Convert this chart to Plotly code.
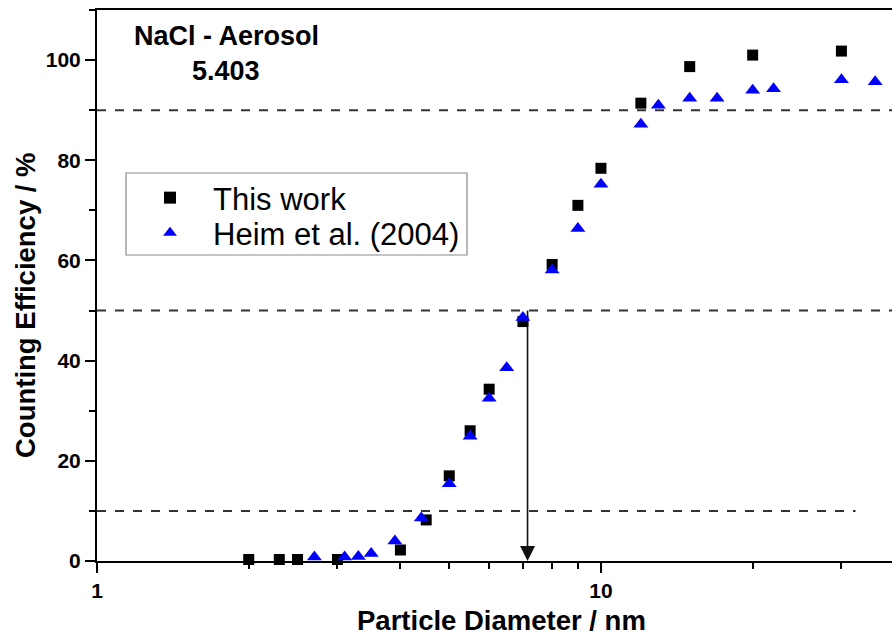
import math
import plotly.graph_objects as go

# Measured counting efficiency (this work), NaCl aerosol, CPC model 5.403
this_work_d = [2.0, 2.3, 2.5, 3.0, 4.0, 4.5, 5.0, 5.5, 6.0, 7.0, 8.0, 9.0, 10.0, 12.0, 15.0, 20.0, 30.0]
this_work_eff = [0.3, 0.3, 0.3, 0.3, 2.2, 8.2, 17.0, 26.0, 34.3, 47.8, 59.2, 71.0, 78.4, 91.4, 98.7, 101.0, 101.8]

# Literature data, Heim et al. (2004)
heim_d = [2.7, 3.1, 3.3, 3.5, 3.9, 4.4, 5.0, 5.5, 6.0, 6.5, 7.0, 8.0, 9.0, 10.0, 12.0, 13.0, 15.0, 17.0, 20.0, 22.0, 30.0, 35.0]
heim_eff = [0.8, 0.8, 0.9, 1.5, 4.0, 8.6, 15.4, 24.9, 32.5, 38.6, 48.6, 58.1, 66.4, 75.2, 87.2, 91.0, 92.4, 92.4, 94.0, 94.3, 96.1, 95.7]

# Reference efficiency levels (dashed) and the d50 cut-off diameter
ref_levels = [90, 50, 10]
ref_level_end = [45, 45, 32]
d50 = 7.15
d50_level = 50

FONT = "Arial, 'Liberation Sans', sans-serif"

# Plot area in pixels (left, top, width, height)
PL, PT, PW, PH = 97, 10, 795, 551


def px_x(px):
    return (px - PL) / PW


def px_y(py):
    return (PT + PH - py) / PH


fig = go.Figure()

for lvl, xend in zip(ref_levels, ref_level_end):
    fig.add_trace(go.Scatter(
        x=[1, xend], y=[lvl, lvl], mode="lines",
        line=dict(color="#333333", width=2, dash="9px,9px"),
        showlegend=False, hoverinfo="skip"))

# d50 marker: vertical line from the 50 % level down to the axis, with arrow tip
fig.add_trace(go.Scatter(
    x=[d50, d50], y=[d50_level, 1.5], mode="lines",
    line=dict(color="#111111", width=1.6),
    showlegend=False, hoverinfo="skip"))
fig.add_trace(go.Scatter(
    x=[d50], y=[0], mode="markers",
    marker=dict(symbol="arrow-down", size=15, color="#111111", line=dict(width=0)),
    cliponaxis=False, showlegend=False, hoverinfo="skip"))

fig.add_trace(go.Scatter(
    x=this_work_d, y=this_work_eff, mode="markers", name="This work",
    marker=dict(symbol="square", size=11, color="black", line=dict(width=0)),
    cliponaxis=False, legend="legend"))

fig.add_trace(go.Scatter(
    x=heim_d, y=heim_eff, mode="markers", name="Heim et al. (2004)",
    marker=dict(symbol="triangle-up", size=13, color="#0000ff", line=dict(width=0)),
    cliponaxis=False, legend="legend2"))

# Sample label
fig.add_annotation(
    x=px_x(226), y=px_y(36), xref="paper", yref="paper", xanchor="center", yanchor="middle",
    text="<b>NaCl - Aerosol</b>", showarrow=False,
    font=dict(family=FONT, size=27, color="black"))
fig.add_annotation(
    x=px_x(226), y=px_y(71), xref="paper", yref="paper", xanchor="center", yanchor="middle",
    text="<b>5.403</b>", showarrow=False,
    font=dict(family=FONT, size=27, color="black"))

# Axis titles
fig.add_annotation(
    x=px_x(25), y=px_y(305), xref="paper", yref="paper", xanchor="center", yanchor="middle",
    text="<b>Counting Efficiency / %</b>", textangle=-90, showarrow=False,
    font=dict(family=FONT, size=27.5, color="black"))
fig.add_annotation(
    x=px_x(501), y=px_y(620), xref="paper", yref="paper", xanchor="center", yanchor="middle",
    text="<b>Particle Diameter / nm</b>", showarrow=False,
    font=dict(family=FONT, size=27.5, color="black"))

# Legend frame
fig.add_shape(type="rect", xref="paper", yref="paper",
              x0=px_x(126), x1=px_x(467), y0=px_y(255), y1=px_y(173),
              line=dict(color="#8a8a8a", width=1.2), fillcolor="white", layer="below")

legend_common = dict(
    xanchor="left", yanchor="middle", bgcolor="rgba(0,0,0,0)", borderwidth=0,
    font=dict(family=FONT, size=31, color="black"),
    itemwidth=76, itemsizing="constant")

x_ticks = [1, 10]
y_ticks = [0, 20, 40, 60, 80, 100]

fig.update_layout(
    width=892, height=635,
    margin=dict(l=PL, r=892 - PL - PW, t=PT, b=635 - PT - PH),
    paper_bgcolor="white", plot_bgcolor="white",
    font=dict(family=FONT, color="black"),
    showlegend=True,
    legend=dict(x=px_x(127), y=px_y(198), **legend_common),
    legend2=dict(x=px_x(127), y=px_y(233), **legend_common),
    xaxis=dict(
        type="log", range=[0, math.log10(37.8)],
        tickmode="array", tickvals=x_ticks, ticktext=["<b>%d</b>" % v for v in x_ticks],
        ticks="outside", ticklen=10, tickwidth=2, tickcolor="black",
        showline=True, linewidth=2, linecolor="black", mirror=True,
        showgrid=False, zeroline=False,
        tickfont=dict(family=FONT, size=21, color="black"),
        minor=dict(dtick="D1", ticks="outside", ticklen=6,
                   tickwidth=2, tickcolor="black", showgrid=False)),
    yaxis=dict(
        range=[0, 110],
        tickmode="array", tickvals=y_ticks, ticktext=["<b>%d</b>" % v for v in y_ticks],
        ticks="outside", ticklen=10, tickwidth=2, tickcolor="black",
        showline=True, linewidth=2, linecolor="black", mirror=False,
        showgrid=False, zeroline=False,
        tickfont=dict(family=FONT, size=21, color="black"),
        minor=dict(dtick=10, ticks="outside", ticklen=6,
                   tickwidth=2, tickcolor="black", showgrid=False)),
)

fig.write_html("out.html")
